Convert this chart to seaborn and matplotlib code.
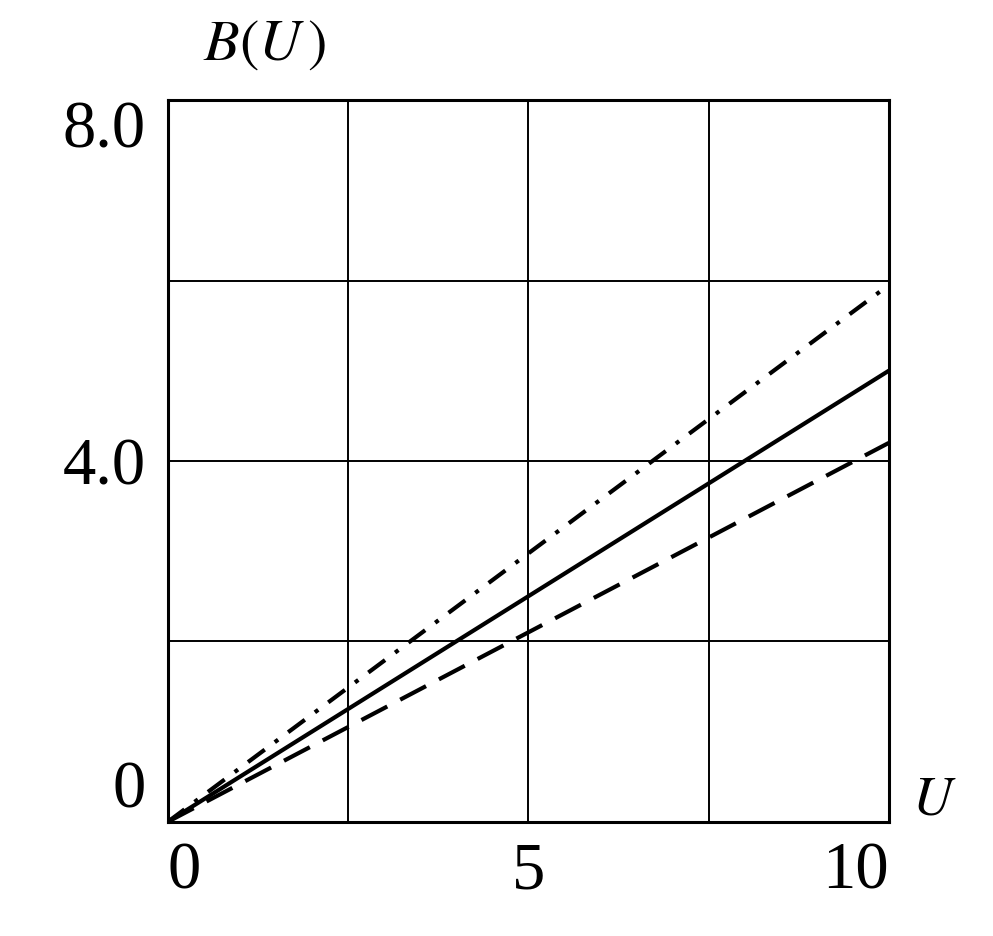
import numpy as np
import pandas as pd
import matplotlib
matplotlib.use('Agg')
import matplotlib.pyplot as plt
import seaborn as sns

# values
U = [0, 10]
b_dashdot = [0, 5.95]
b_solid = [0, 5.0]
b_dashed = [0, 4.2]

xticks = [0, 2.5, 5, 7.5, 10]
xlabels = ['0', '', '5', '', '10']
yticks = [0, 2, 4, 6, 8]
ylabels = ['0', '', '4.0', '', '8.0']

sns.set_style('white')
plt.rcParams['font.family'] = ['Liberation Serif', 'DejaVu Serif']
plt.rcParams['mathtext.fontset'] = 'stix'
plt.rcParams['text.color'] = 'black'

df = pd.DataFrame({
    'U': U * 3,
    'B': b_dashdot + b_solid + b_dashed,
    'curve': ['dashdot'] * 2 + ['solid'] * 2 + ['dashed'] * 2,
})

fig = plt.figure(figsize=(9.93, 9.36), dpi=100)
ax = fig.add_axes([0.169, 0.122, 0.726, 0.771])

sns.lineplot(data=df, x='U', y='B', style='curve',
             dashes={'dashdot': (5, 3, 1, 3), 'solid': '', 'dashed': (7, 3.5)},
             color='black', linewidth=3, legend=False, ax=ax)

ax.set_xlim(0, 10)
ax.set_ylim(0, 8)
ax.set_xticks(xticks)
ax.set_xticklabels(xlabels)
ax.set_yticks(yticks)
ax.set_yticklabels(ylabels)
ax.grid(True, color='black', linewidth=1.4)
ax.tick_params(length=0, labelsize=48, labelcolor='black')
ax.tick_params(axis='y', pad=16)
ax.tick_params(axis='x', pad=14)
ax.set_xlabel('')
ax.set_ylabel('')
for s in ax.spines.values():
    s.set_color('black')
    s.set_linewidth(2.2)

xl = ax.get_xticklabels()
xl[0].set_ha('left')
xl[-1].set_ha('right')
yl = ax.get_yticklabels()
yl[0].set_va('bottom')
yl[-1].set_va('top')

fig.text(0.204, 0.952, r'$B\left(U\,\right)$', fontsize=42, va='center', ha='left',
         color='black')
fig.text(0.918, 0.145, r'$U$', fontsize=40, va='center', ha='left', color='black')

fig.savefig('out.png', dpi=100)
